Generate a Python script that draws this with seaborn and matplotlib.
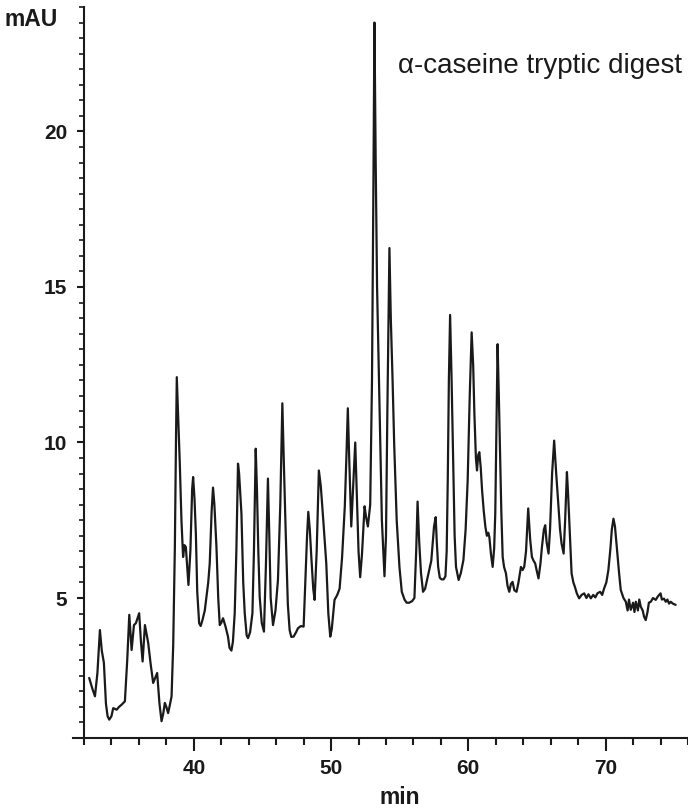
import numpy as np
import pandas as pd
import matplotlib
matplotlib.use("Agg")
import matplotlib.pyplot as plt
from matplotlib.ticker import MultipleLocator
import seaborn as sns

# retention time (min) and absorbance (mAU)
minutes = [
    32.38, 32.60, 32.80, 32.98, 33.16, 33.30, 33.45, 33.60, 33.72, 33.84,
    34.00, 34.13, 34.38, 34.55, 34.74, 34.98, 35.15, 35.30, 35.47, 35.64,
    35.78, 36.02, 36.15, 36.27, 36.44, 36.68, 36.85, 37.04, 37.20, 37.33,
    37.50, 37.65, 37.78, 37.89, 38.00, 38.13, 38.25, 38.38, 38.50, 38.62,
    38.70, 38.76, 38.85, 38.98, 39.10, 39.22, 39.32, 39.42, 39.52, 39.61,
    39.75, 39.88, 39.95, 40.05, 40.15, 40.25, 40.39, 40.50, 40.63, 40.80,
    40.92, 41.05, 41.16, 41.30, 41.40, 41.50, 41.65, 41.78, 41.89, 42.00,
    42.13, 42.30, 42.49, 42.60, 42.74, 42.85, 42.98, 43.10, 43.22, 43.30,
    43.47, 43.60, 43.71, 43.85, 43.95, 44.10, 44.27, 44.38, 44.51, 44.60,
    44.70, 44.80, 44.95, 45.11, 45.25, 45.40, 45.50, 45.60, 45.77, 45.95,
    46.13, 46.30, 46.45, 46.55, 46.69, 46.85, 46.98, 47.10, 47.27, 47.45,
    47.59, 47.80, 48.00, 48.15, 48.25, 48.34, 48.45, 48.56, 48.70, 48.80,
    48.95, 49.11, 49.25, 49.45, 49.65, 49.80, 49.94, 50.05, 50.25, 50.45,
    50.62, 50.80, 51.00, 51.12, 51.22, 51.32, 51.47, 51.60, 51.76, 51.90,
    52.00, 52.12, 52.25, 52.44, 52.55, 52.68, 52.85, 52.98, 53.08, 53.16,
    53.25, 53.35, 53.53, 53.70, 53.89, 54.00, 54.10, 54.25, 54.35, 54.48,
    54.60, 54.78, 54.98, 55.15, 55.35, 55.50, 55.70, 55.90, 56.07, 56.20,
    56.30, 56.42, 56.55, 56.70, 56.85, 57.00, 57.15, 57.30, 57.50, 57.62,
    57.70, 57.80, 57.92, 58.05, 58.20, 58.33, 58.42, 58.50, 58.58, 58.67,
    58.78, 58.91, 59.00, 59.10, 59.29, 59.45, 59.64, 59.80, 59.95, 60.10,
    60.24, 60.35, 60.44, 60.55, 60.63, 60.72, 60.80, 60.90, 61.00, 61.12,
    61.24, 61.35, 61.45, 61.53, 61.65, 61.77, 61.88, 61.96, 62.05, 62.13,
    62.22, 62.30, 62.40, 62.50, 62.60, 62.74, 62.85, 62.98, 63.10, 63.22,
    63.35, 63.51, 63.65, 63.83, 63.95, 64.07, 64.20, 64.36, 64.50, 64.63,
    64.75, 64.87, 64.97, 65.11, 65.25, 65.36, 65.50, 65.60, 65.70, 65.84,
    65.95, 66.10, 66.25, 66.40, 66.55, 66.68, 66.79, 66.94, 67.05, 67.18,
    67.27, 67.35, 67.45, 67.52, 67.65, 67.76, 67.90, 68.07, 68.25, 68.44,
    68.60, 68.75, 68.92, 69.10, 69.25, 69.40, 69.60, 69.75, 69.89, 70.05,
    70.20, 70.35, 70.45, 70.57, 70.68, 70.78, 70.86, 70.98, 71.10, 71.30,
    71.47, 71.60, 71.70, 71.83, 72.00, 72.10, 72.20, 72.35, 72.45, 72.56,
    72.70, 72.80, 72.92, 73.05, 73.15, 73.29, 73.45, 73.65, 73.80, 74.00,
    74.10, 74.25, 74.38, 74.50, 74.62, 74.74, 74.90, 75.10,
]
mau = [
    2.43, 2.10, 1.84, 2.60, 3.97, 3.30, 2.92, 1.60, 1.20, 1.09,
    1.20, 1.46, 1.41, 1.50, 1.57, 1.68, 3.00, 4.46, 3.33, 4.13,
    4.19, 4.51, 3.60, 2.96, 4.13, 3.55, 2.90, 2.27, 2.45, 2.59,
    1.60, 1.04, 1.30, 1.63, 1.50, 1.30, 1.55, 1.84, 3.50, 6.64,
    10.00, 12.10, 11.00, 9.32, 7.50, 6.32, 6.70, 6.64, 6.00, 5.42,
    6.50, 8.50, 8.89, 8.20, 7.07, 5.20, 4.19, 4.10, 4.29, 4.60,
    5.04, 5.50, 6.11, 7.80, 8.55, 8.00, 6.64, 5.00, 4.13, 4.20,
    4.35, 4.10, 3.76, 3.40, 3.31, 3.60, 4.51, 6.50, 9.32, 9.00,
    7.71, 5.50, 4.51, 3.80, 3.71, 3.90, 4.51, 6.50, 9.80, 8.50,
    6.50, 5.04, 4.20, 3.92, 6.00, 8.84, 7.00, 5.00, 4.13, 4.60,
    5.58, 8.00, 11.26, 9.50, 7.18, 4.80, 3.97, 3.75, 3.76, 3.90,
    4.03, 4.10, 4.08, 5.79, 7.00, 7.77, 7.20, 6.32, 5.30, 4.94,
    6.50, 9.10, 8.60, 7.39, 6.11, 4.50, 3.76, 4.00, 4.94, 5.10,
    5.30, 6.30, 7.95, 9.60, 11.10, 9.50, 7.30, 8.50, 10.00, 8.00,
    6.50, 5.67, 6.40, 7.95, 7.60, 7.30, 8.00, 12.00, 18.00, 23.50,
    19.00, 15.00, 11.20, 7.50, 5.70, 7.00, 11.00, 16.25, 14.00, 12.00,
    9.90, 7.50, 6.00, 5.20, 4.95, 4.85, 4.85, 4.90, 5.00, 6.50,
    8.10, 6.80, 5.80, 5.20, 5.30, 5.60, 5.90, 6.20, 7.30, 7.60,
    6.80, 6.00, 5.65, 5.60, 5.60, 5.70, 6.50, 8.80, 12.00, 14.10,
    12.00, 9.00, 7.00, 6.00, 5.58, 5.80, 6.22, 7.20, 8.78, 11.50,
    13.54, 12.50, 10.92, 9.50, 9.10, 9.60, 9.69, 9.20, 8.46, 7.80,
    7.29, 7.00, 7.10, 6.96, 6.40, 6.00, 6.60, 7.71, 10.50, 13.16,
    11.50, 9.85, 7.80, 6.32, 6.00, 5.79, 5.40, 5.20, 5.45, 5.52,
    5.25, 5.20, 5.50, 6.00, 5.90, 6.00, 6.50, 7.88, 6.90, 6.32,
    6.20, 6.11, 5.90, 5.63, 6.10, 6.64, 7.20, 7.34, 6.80, 6.43,
    7.20, 9.00, 10.06, 9.00, 8.04, 7.20, 6.75, 6.43, 7.50, 9.05,
    8.30, 7.50, 6.50, 5.79, 5.50, 5.36, 5.15, 4.99, 5.10, 5.15,
    5.00, 5.12, 4.99, 5.10, 5.02, 5.15, 5.20, 5.10, 5.31, 5.50,
    5.90, 6.60, 7.20, 7.55, 7.30, 6.80, 6.43, 5.80, 5.26, 5.00,
    4.88, 4.60, 4.95, 4.62, 4.85, 4.55, 4.88, 4.60, 4.95, 4.72,
    4.60, 4.40, 4.29, 4.55, 4.85, 4.88, 5.00, 4.94, 5.05, 5.15,
    4.95, 4.98, 4.88, 4.95, 4.82, 4.88, 4.82, 4.78,
]
x_major = [40, 50, 60, 70]
y_major = [5, 10, 15, 20]

df = pd.DataFrame({"min": minutes, "mAU": mau})

sns.set_style("ticks")
plt.rcParams["font.family"] = ["Liberation Sans", "DejaVu Sans"]

fig = plt.figure(figsize=(6.88, 8.09), dpi=100)
ax = fig.add_axes([73 / 688, 71 / 809, 615 / 688, 731 / 809])

sns.lineplot(data=df, x="min", y="mAU", color="#1a1a1a", linewidth=1.6, ax=ax)

ax.set_xlim(31.2, 76.0)
ax.set_ylim(0.5, 24.0)
ax.spines["left"].set_position(("data", 32))
ax.spines["top"].set_visible(False)
ax.spines["right"].set_visible(False)
for s in ("left", "bottom"):
    ax.spines[s].set_linewidth(1.5)
    ax.spines[s].set_color("#1a1a1a")

ax.set_xticks(x_major)
ax.set_yticks(y_major)
ax.xaxis.set_minor_locator(MultipleLocator(2))
ax.yaxis.set_minor_locator(MultipleLocator(0.5))
ax.tick_params(axis="x", which="major", length=9, width=1.5, pad=6, labelsize=15, colors="#1a1a1a")
ax.tick_params(axis="x", which="minor", length=5, width=1.5, colors="#1a1a1a")
ax.tick_params(axis="y", which="major", length=5, width=1.5, pad=7, labelsize=15, colors="#1a1a1a")
ax.tick_params(axis="y", which="minor", length=3.5, width=1.2, colors="#1a1a1a")
for lab in ax.get_xticklabels() + ax.get_yticklabels():
    lab.set_fontweight("bold")

ax.set_xlabel("")
ax.set_ylabel("")
fig.text(400 / 688, 1 - 797 / 809, "min", ha="center", va="center",
         fontsize=16.5, fontweight="bold", color="#1a1a1a")
fig.text(5 / 688, 1 - 20 / 809, "mAU", ha="left", va="center",
         fontsize=16.5, fontweight="bold", color="#1a1a1a")
fig.text(398 / 688, 1 - 73 / 809, "\u03b1-caseine tryptic digest", ha="left",
         va="baseline", fontsize=20, color="#1a1a1a")

fig.savefig("out.png", dpi=100, facecolor="white")
